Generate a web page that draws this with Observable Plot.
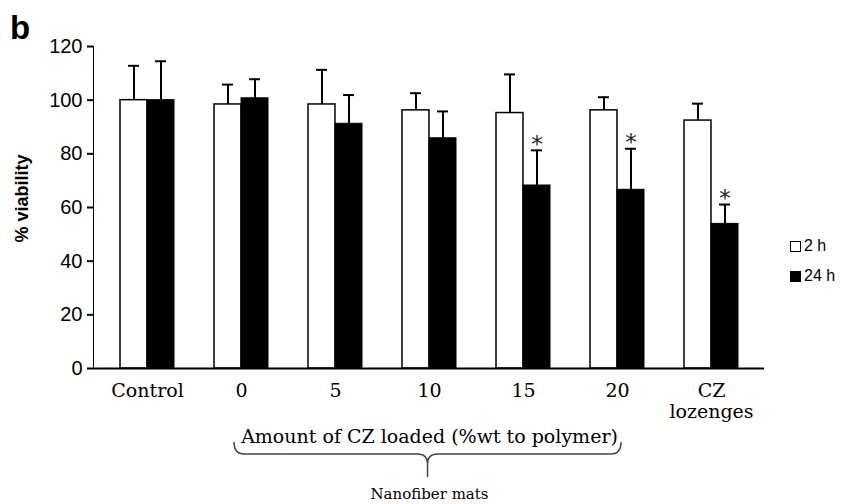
<!DOCTYPE html>
<html><head><meta charset="utf-8">
<script src="https://cdn.jsdelivr.net/npm/d3@7"></script>
<script src="https://cdn.jsdelivr.net/npm/@observablehq/plot@0.6"></script>
<style>
body{margin:0;background:#fff;}
#wrap{position:relative;width:841px;height:504px;overflow:hidden;}
.panel{position:absolute;left:10px;top:9px;line-height:1;font:bold 33px "Liberation Sans",Arial,sans-serif;}
.leg{position:absolute;left:790px;height:16px;line-height:16px;font:16px "Liberation Sans",Arial,sans-serif;display:flex;align-items:center;}
.sw{width:9px;height:9px;border:1.2px solid #000;display:inline-block;margin-right:3px;}
svg [aria-label^="y-axis"] path, svg [aria-label^="y-axis"] line {stroke-width:2px;}
</style></head><body><div id="wrap"></div>
<script>
// ---- data ----
const groups = ["Control", "0", "5", "10", "15", "20", "CZ lozenges"];
const tickLabels = ["Control", "0", "5", "10", "15", "20", "CZ\nlozenges"];
const seriesNames = ["2 h", "24 h"];
const mean2h  = [100, 98.4, 98.4, 96.2, 95.2, 96.2, 92.4];
const sd2h    = [12.8, 7.4, 12.9, 6.4, 14.4, 4.9, 6.3];
const mean24h = [100, 100.7, 91.2, 85.8, 68.2, 66.6, 53.9];
const sd24h   = [14.5, 7.1, 10.7, 10.0, 13.1, 15.3, 7.2];
const sig24h  = [false, false, false, false, true, true, true];
const yTicks  = [0, 20, 40, 60, 80, 100, 120];
const yLabel = "% viability";
const xTitle = "Amount of CZ loaded (%wt to polymer)";
const braceLabel = "Nanofiber mats";
const braceGroups = ["0", "20"];

// ---- layout ----
const W = 841, H = 504, ml = 93, mr = 77, mt = 46, mb = 136;
const pInner = 0.43, pOuter = 0.253;
const step = (W - ml - mr) / (groups.length - pInner + 2 * pOuter);
const bw = step * (1 - pInner);
const capW = 11;

const d2 = groups.map((g, i) => ({group: g, value: mean2h[i], top: mean2h[i] + sd2h[i]}));
const d24 = groups.map((g, i) => ({group: g, value: mean24h[i], top: mean24h[i] + sd24h[i], sig: sig24h[i]}));
const midGroup = groups[Math.round((groups.indexOf(braceGroups[0]) + groups.indexOf(braceGroups[1])) / 2)];

const serif = "DejaVu Serif, serif";

const chart = Plot.plot({
  width: W, height: H,
  marginLeft: ml, marginRight: mr, marginTop: mt, marginBottom: mb,
  style: {fontFamily: "Liberation Sans, Arial, sans-serif", fontSize: "20px", color: "#000", background: "#fff", overflow: "visible"},
  x: {domain: groups, paddingInner: pInner, paddingOuter: pOuter, axis: null},
  y: {domain: [0, 120], ticks: yTicks, tickSize: 6, tickPadding: 5, line: true, label: null},
  marks: [
    Plot.barY(d2, {x: "group", y: "value", fill: "white", stroke: "black", strokeWidth: 1.5, insetRight: bw / 2}),
    Plot.barY(d24, {x: "group", y: "value", fill: "black", stroke: "black", strokeWidth: 1, insetLeft: bw / 2}),
    Plot.ruleX(d2, {x: "group", y1: "value", y2: "top", dx: -bw / 4, strokeWidth: 2}),
    Plot.ruleX(d24, {x: "group", y1: "value", y2: "top", dx: bw / 4, strokeWidth: 2}),
    Plot.tickY(d2, {x: "group", y: "top", strokeWidth: 2, insetLeft: bw / 4 - capW / 2, insetRight: 3 * bw / 4 - capW / 2}),
    Plot.tickY(d24, {x: "group", y: "top", strokeWidth: 2, insetLeft: 3 * bw / 4 - capW / 2, insetRight: bw / 4 - capW / 2}),
    Plot.text(d24.filter(d => d.sig), {x: "group", y: "top", text: () => "*", dx: bw / 4, dy: -6, fontFamily: "DejaVu Sans, sans-serif", fontSize: 23, fill: "#222"}),
    Plot.ruleY([0], {strokeWidth: 2}),
    Plot.text(groups, {x: d => d, text: (d, i) => tickLabels[i], frameAnchor: "bottom", lineAnchor: "top", dy: 14, lineHeight: 1.1, fontFamily: serif, fontSize: 19}),
    Plot.text([xTitle], {x: () => midGroup, text: d => d, frameAnchor: "bottom", lineAnchor: "top", dy: 61, fontFamily: serif, fontSize: 19}),
    Plot.text([braceLabel], {x: () => midGroup, text: d => d, frameAnchor: "bottom", lineAnchor: "top", dy: 120, fontFamily: serif, fontSize: 15}),
    Plot.text([yLabel], {frameAnchor: "left", textAnchor: "middle", text: d => d, dx: -71, dy: -9, rotate: -90, fontWeight: "bold", fontSize: 18})
  ]
});

// brace under the nanofiber-mat groups, positioned from the x scale
let xs;
try { xs = chart.scale("x"); } catch (e) { xs = null; }
const xApply = xs && xs.apply ? xs.apply : d3.scaleBand(groups, [ml, W - mr]).paddingInner(pInner).paddingOuter(pOuter);
const L = xApply(braceGroups[0]) + bw / 2 - 7;
const R = xApply(braceGroups[1]) + bw / 2 + 4;
const C = (L + R) / 2;
const y0 = H - mb;
const yTop = y0 + 74, yMid = y0 + 86, yTip = y0 + 109, r = 10;
d3.select(chart).append("path")
  .attr("fill", "none").attr("stroke", "#444").attr("stroke-width", 1.5)
  .attr("d", `M${L},${yTop} Q${L},${yMid} ${L + r},${yMid} L${C - r},${yMid} Q${C},${yMid} ${C},${yMid + r} L${C},${yTip} M${C},${yMid + r} Q${C},${yMid} ${C + r},${yMid} L${R - r},${yMid} Q${R},${yMid} ${R},${yTop}`);

const wrap = document.getElementById("wrap");
wrap.appendChild(chart);
const panel = document.createElement("div");
panel.className = "panel"; panel.textContent = "b";
wrap.appendChild(panel);
const legTops = [238, 268];
seriesNames.forEach((s, i) => {
  const row = document.createElement("div");
  row.className = "leg"; row.style.top = legTops[i] + "px";
  const sw = document.createElement("span");
  sw.className = "sw"; sw.style.background = i === 0 ? "#fff" : "#000";
  row.appendChild(sw);
  row.appendChild(document.createTextNode(s));
  wrap.appendChild(row);
});
</script></body></html>
